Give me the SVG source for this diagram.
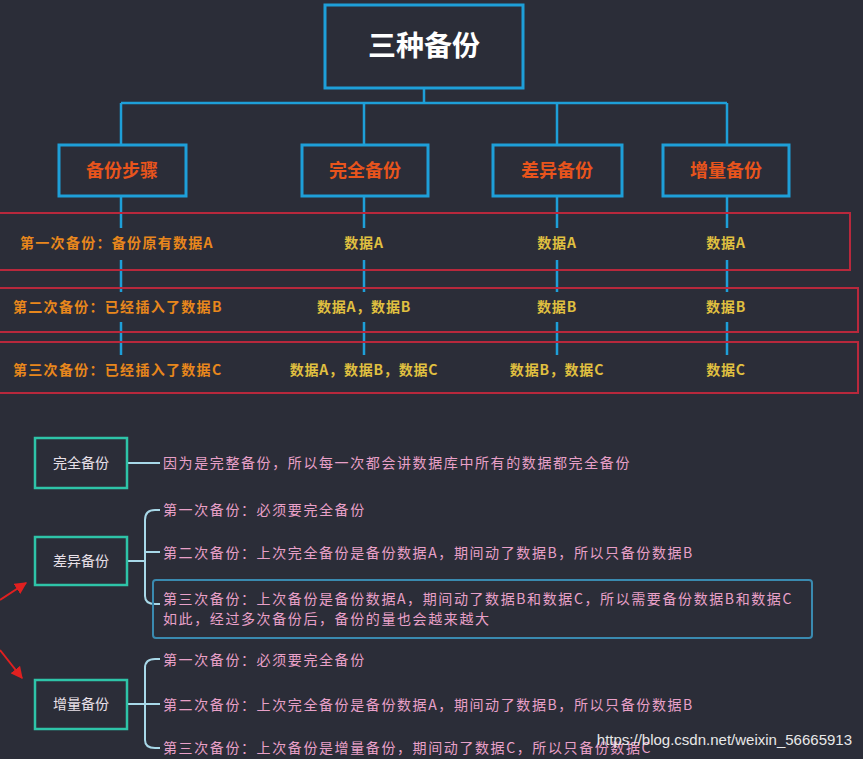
<svg xmlns="http://www.w3.org/2000/svg" width="863" height="759" viewBox="0 0 863 759">
<defs>
<style>
text{font-family:"Noto Sans CJK SC","Liberation Sans",sans-serif;font-weight:bold}
.hn{fill:none;stroke:#1e9fd8;stroke-width:3}
.ht{fill:#e8541c;font-size:18px;text-anchor:middle}
.ln{stroke:#1e9fd8;stroke-width:2.5;fill:none}
.row{fill:none;stroke:#b8283c;stroke-width:2}
.lt{fill:#e8871c;font-size:14px;letter-spacing:1.3px}
.ct{fill:#e0c040;font-size:14px;letter-spacing:0.8px;text-anchor:middle}
.bx{fill:none;stroke:#2ec4a8;stroke-width:2.5}
.bt{fill:#e8e0e8;font-size:14px;text-anchor:middle;font-weight:normal}
.pt{fill:#e8a0c8;font-size:14px;letter-spacing:1.6px;font-weight:normal}
.br{stroke:#a8d8e8;stroke-width:2;fill:none}
</style>
<marker id="ar" viewBox="0 0 10 10" refX="9" refY="5" markerWidth="6" markerHeight="6" orient="auto"><path d="M0,0L10,5L0,10z" fill="#e02020"/></marker>
</defs>
<rect width="863" height="759" fill="#2b2d38"/>
<g id="connectors">
<path class="ln" d="M424,88V103M121,103H727M121,103V145M364,103V145M557,103V145M727,103V145"/>
<path class="ln" d="M121,196V228M364,196V228M557,196V228M727,196V228M121,260V292M364,260V292M557,260V292M727,260V292M121,322V355M364,322V355M557,322V355M727,322V355"/>
<path class="br" d="M127,463H160"/>
<path class="br" d="M127,561H145M145,561V520Q145,510 155,510H160M145,561V552H160M145,561V596Q145,604 155,604H160"/>
<path class="br" d="M127,704H145M145,704V668Q145,659 155,659H160M145,704H160M145,704V740Q145,748 155,748H160"/>
<line x1="0" y1="600" x2="26" y2="583" stroke="#e02020" stroke-width="2" marker-end="url(#ar)"/>
<line x1="0" y1="650" x2="22" y2="678" stroke="#e02020" stroke-width="2" marker-end="url(#ar)"/>
</g>
<g id="title"><rect x="325" y="5" width="198" height="83" fill="#2b2d38" stroke="#1e9fd8" stroke-width="3"/><text x="424" y="56" fill="#ffffff" font-size="28" text-anchor="middle">三种备份</text></g>
<g id="h1"><rect class="hn" x="59" y="145" width="127" height="51"/><text class="ht" x="122" y="177">备份步骤</text></g>
<g id="h2"><rect class="hn" x="302" y="145" width="126" height="51"/><text class="ht" x="365" y="177">完全备份</text></g>
<g id="h3"><rect class="hn" x="493" y="145" width="129" height="51"/><text class="ht" x="557" y="177">差异备份</text></g>
<g id="h4"><rect class="hn" x="663" y="145" width="126" height="51"/><text class="ht" x="726" y="177">增量备份</text></g>
<g id="rows">
<rect class="row" x="-2" y="213" width="852" height="57"/>
<rect class="row" x="-2" y="288" width="860" height="44"/>
<rect class="row" x="-2" y="342" width="860" height="51"/>
<text class="lt" x="20" y="248">第一次备份：备份原有数据A</text>
<text class="lt" x="13" y="312">第二次备份：已经插入了数据B</text>
<text class="lt" x="13" y="375">第三次备份：已经插入了数据C</text>
<text class="ct" x="364" y="248">数据A</text><text class="ct" x="557" y="248">数据A</text><text class="ct" x="726" y="248">数据A</text>
<text class="ct" x="364" y="312">数据A，数据B</text><text class="ct" x="557" y="312">数据B</text><text class="ct" x="726" y="312">数据B</text>
<text class="ct" x="364" y="375">数据A，数据B，数据C</text><text class="ct" x="557" y="375">数据B，数据C</text><text class="ct" x="726" y="375">数据C</text>
</g>
<g id="n-full"><rect class="bx" x="35" y="438" width="92" height="50"/><text class="bt" x="81" y="468">完全备份</text>
<text class="pt" x="163" y="468">因为是完整备份，所以每一次都会讲数据库中所有的数据都完全备份</text></g>
<g id="n-diff"><rect class="bx" x="35" y="537" width="92" height="48"/><text class="bt" x="81" y="566">差异备份</text>
<text class="pt" x="163" y="515">第一次备份：必须要完全备份</text>
<text class="pt" x="163" y="558">第二次备份：上次完全备份是备份数据A，期间动了数据B，所以只备份数据B</text>
<rect x="153" y="580" width="659" height="58" rx="3" fill="none" stroke="#3a8ab0" stroke-width="2"/>
<text class="pt" x="163" y="604">第三次备份：上次备份是备份数据A，期间动了数据B和数据C，所以需要备份数据B和数据C</text>
<text class="pt" x="163" y="624">如此，经过多次备份后，备份的量也会越来越大</text></g>
<g id="n-inc"><rect class="bx" x="35" y="680" width="92" height="49"/><text class="bt" x="81" y="709">增量备份</text>
<text class="pt" x="163" y="665">第一次备份：必须要完全备份</text>
<text class="pt" x="163" y="710">第二次备份：上次完全备份是备份数据A，期间动了数据B，所以只备份数据B</text>
<text class="pt" x="163" y="753">第三次备份：上次备份是增量备份，期间动了数据C，所以只备份数据C</text></g>
<text x="852" y="745" fill="#e8e8e8" font-size="15" text-anchor="end" style="font-family:'Liberation Sans',sans-serif;font-weight:normal">https://blog.csdn.net/weixin_56665913</text>
</svg>
